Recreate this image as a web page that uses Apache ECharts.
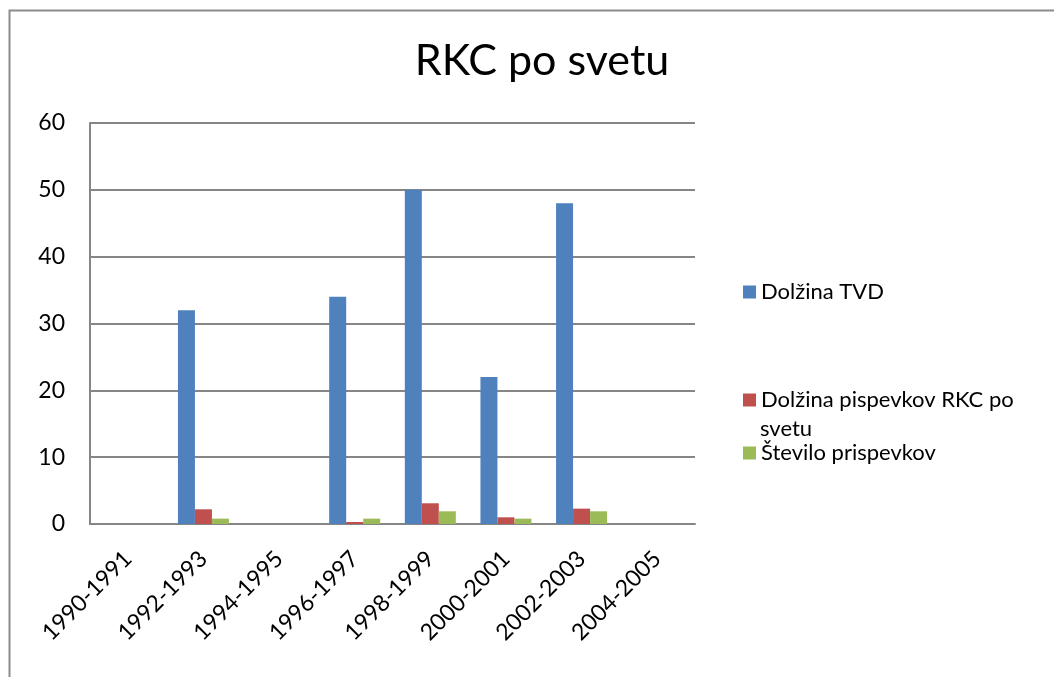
<!DOCTYPE html>
<html><head><meta charset="utf-8">
<script src="https://cdn.jsdelivr.net/npm/echarts@6/dist/echarts.min.js"></script>
<style>html,body{margin:0;padding:0;background:#fff}#c{width:1054px;height:677px}</style>
</head><body><div id="c"></div>
<script>
const categories = ['1990-1991','1992-1993','1994-1995','1996-1997','1998-1999','2000-2001','2002-2003','2004-2005'];
const dolzinaTVD = [0, 32, 0, 34, 50, 22, 48, 0];
const dolzinaPrispevkov = [0, 2.2, 0, 0.3, 3.1, 1.0, 2.3, 0];
const steviloPrispevkov = [0, 0.8, 0, 0.8, 1.9, 0.8, 1.9, 0];
const yTicks = [0, 10, 20, 30, 40, 50, 60];
const seriesNames = ['Dolžina TVD', 'Dolžina pispevkov RKC po svetu', 'Število prispevkov'];

const font = 'Lato, "Open Sans", sans-serif';
const legendText = {fontFamily:font, fontSize:22, color:'#000'};
const legendBase = {orient:'vertical', left: 738, itemWidth: 13, itemHeight: 13, icon:'rect', textStyle: legendText};
const chart = echarts.init(document.getElementById('c'));
chart.setOption({
  animation: false,
  graphic: [
    {type:'rect', shape:{x:9.5,y:10.5,width:1100,height:700}, style:{fill:'none', stroke:'#8c8c8c', lineWidth:2}, silent:true},
    {type:'text', left: 760, top: 418, style:{text:'svetu', font:'22px ' + font, fill:'#000'}, silent:true}
  ],
  title: {text:'RKC po svetu', left: 537, top: 35, textAlign:'center',
    textStyle:{fontFamily:font, fontSize:43, fontWeight:'normal', color:'#000'}},
  legend: [
    Object.assign({}, legendBase, {top: 276, data:[seriesNames[0]]}),
    Object.assign({}, legendBase, {top: 384, data:[seriesNames[1]], formatter: () => 'Dolžina pispevkov RKC po'}),
    Object.assign({}, legendBase, {top: 437, data:[seriesNames[2]]})
  ],
  grid: {left: 90, top: 123, width: 605, height: 401, containLabel:false},
  xAxis: {type:'category', data: categories,
    axisLine:{lineStyle:{color:'#868686', width:2}}, axisTick:{show:false},
    axisLabel:{rotate:45, interval:0, fontFamily:font, fontSize:23, color:'#000', margin:31}},
  yAxis: {type:'value', min:0, max:60, interval:10,
    axisLine:{show:true, lineStyle:{color:'#868686', width:2}}, axisTick:{show:false},
    splitLine:{lineStyle:{color:'#868686', width:2}},
    axisLabel:{fontFamily:font, fontSize:23, color:'#000', margin:25,
      formatter: v => yTicks.includes(v) ? String(v) : ''}},
  series: [
    {name: seriesNames[0], type:'bar', data: dolzinaTVD, barWidth:17, barGap:'0%', barCategoryGap:'33%', itemStyle:{color:'#4f81bd'}},
    {name: seriesNames[1], type:'bar', data: dolzinaPrispevkov, barWidth:17, itemStyle:{color:'#c0504d'}},
    {name: seriesNames[2], type:'bar', data: steviloPrispevkov, barWidth:17, itemStyle:{color:'#9bbb59'}}
  ]
});
</script></body></html>
